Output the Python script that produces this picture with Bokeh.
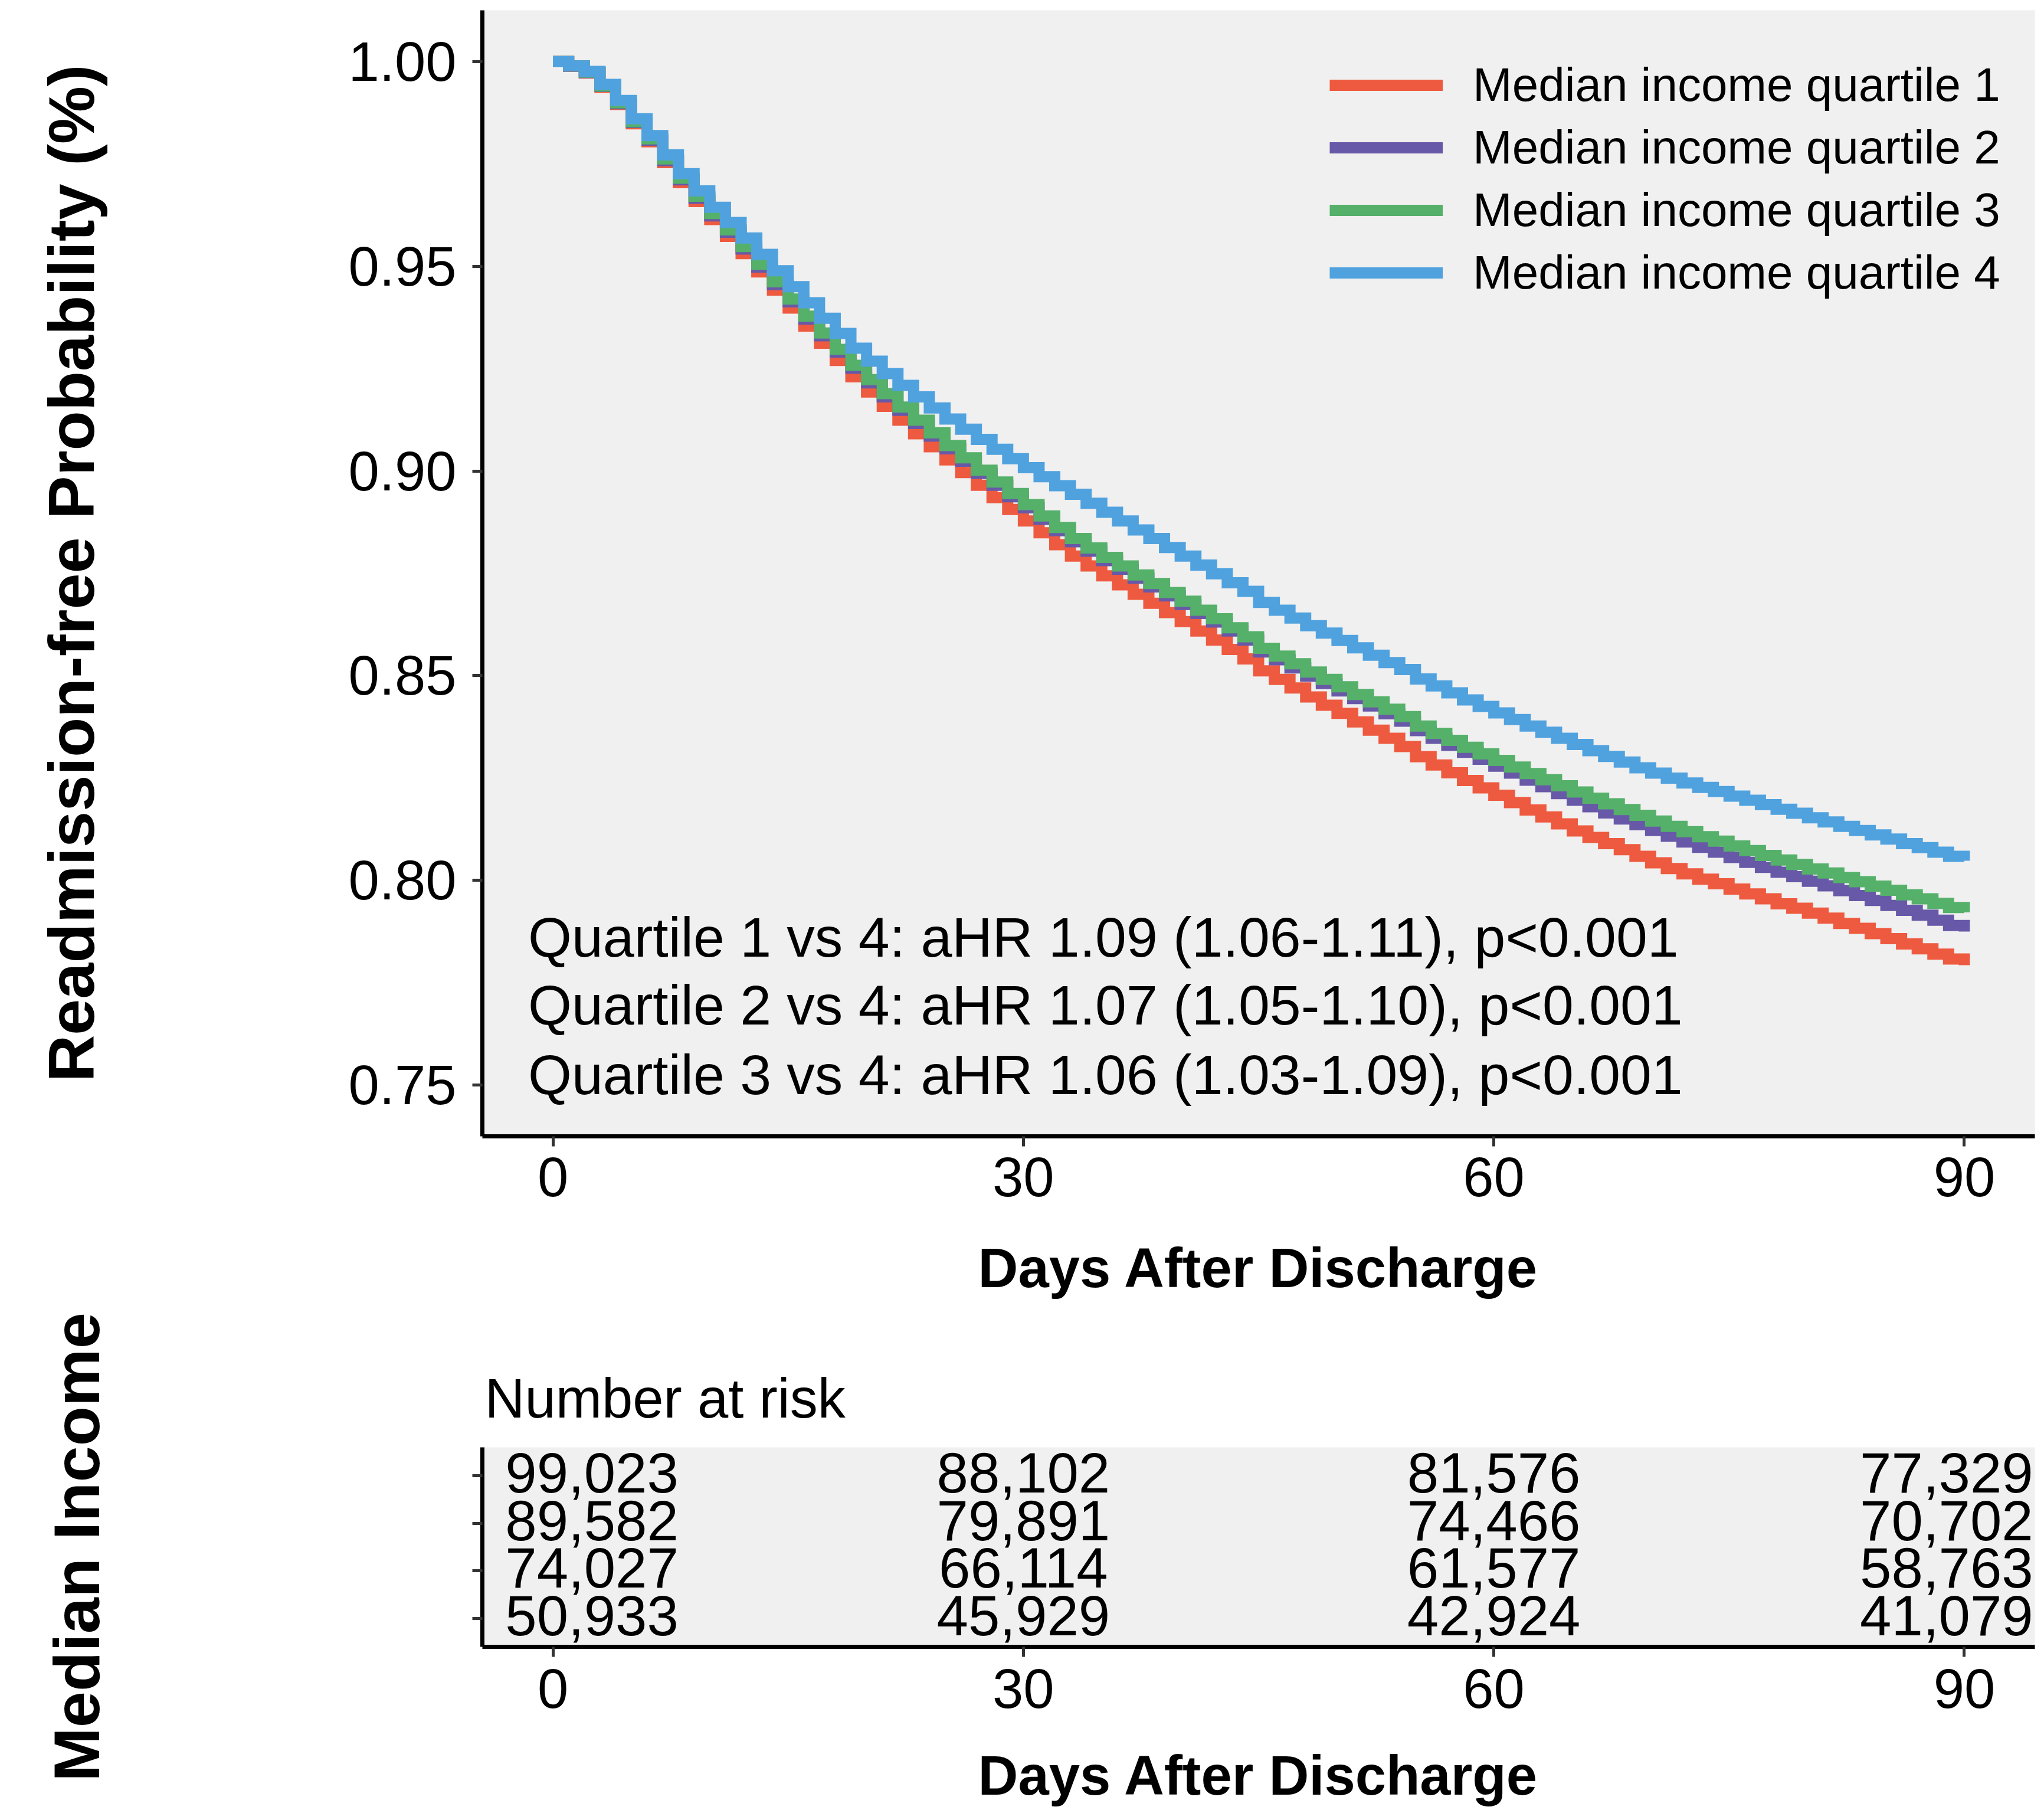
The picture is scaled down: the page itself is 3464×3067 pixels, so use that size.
from bokeh.plotting import figure
from bokeh.models import Range1d, FixedTicker, PrintfTickFormatter, Legend, Label, ColumnDataSource
from bokeh.layouts import column
from bokeh.embed import file_html
from bokeh.resources import INLINE
from bokeh.core.properties import value

FONT = "Liberation Sans"

# ---------------- data ----------------
days = list(range(0, 91))

q1_surv = [1.0000, 0.9988, 0.9972, 0.9937, 0.9895, 0.9848, 0.9804, 0.9753, 0.9704, 0.9658,
           0.9614, 0.9573, 0.9531, 0.9486, 0.9442, 0.9398, 0.9354, 0.9312, 0.9270, 0.9230,
           0.9193, 0.9158, 0.9124, 0.9091, 0.9059, 0.9027, 0.8996, 0.8965, 0.8935, 0.8906,
           0.8878, 0.8849, 0.8820, 0.8792, 0.8768, 0.8744, 0.8722, 0.8699, 0.8677, 0.8654,
           0.8632, 0.8609, 0.8587, 0.8564, 0.8541, 0.8512, 0.8491, 0.8470, 0.8448, 0.8428,
           0.8408, 0.8387, 0.8367, 0.8347, 0.8327, 0.8302, 0.8282, 0.8263, 0.8244, 0.8226,
           0.8208, 0.8190, 0.8172, 0.8155, 0.8138, 0.8121, 0.8105, 0.8090, 0.8075, 0.8059,
           0.8043, 0.8029, 0.8016, 0.8003, 0.7992, 0.7979, 0.7967, 0.7955, 0.7943, 0.7932,
           0.7920, 0.7908, 0.7895, 0.7883, 0.7870, 0.7858, 0.7845, 0.7833, 0.7820, 0.7808,
           0.7793]

q2_surv = [1.0000, 0.9989, 0.9973, 0.9939, 0.9897, 0.9851, 0.9808, 0.9758, 0.9711, 0.9666,
           0.9623, 0.9583, 0.9542, 0.9498, 0.9455, 0.9413, 0.9371, 0.9330, 0.9290, 0.9251,
           0.9215, 0.9181, 0.9148, 0.9116, 0.9085, 0.9054, 0.9024, 0.8994, 0.8965, 0.8937,
           0.8910, 0.8882, 0.8854, 0.8827, 0.8804, 0.8781, 0.8760, 0.8738, 0.8717, 0.8695,
           0.8674, 0.8652, 0.8631, 0.8609, 0.8587, 0.8558, 0.8539, 0.8519, 0.8499, 0.8481,
           0.8463, 0.8444, 0.8426, 0.8407, 0.8389, 0.8366, 0.8347, 0.8330, 0.8313, 0.8296,
           0.8279, 0.8262, 0.8245, 0.8229, 0.8212, 0.8196, 0.8180, 0.8165, 0.8150, 0.8136,
           0.8122, 0.8108, 0.8094, 0.8081, 0.8069, 0.8056, 0.8044, 0.8032, 0.8020, 0.8009,
           0.7998, 0.7987, 0.7975, 0.7963, 0.7951, 0.7939, 0.7927, 0.7915, 0.7903, 0.7890,
           0.7875]

q3_surv = [1.0000, 0.9989, 0.9974, 0.9940, 0.9899, 0.9853, 0.9811, 0.9762, 0.9715, 0.9671,
           0.9629, 0.9589, 0.9548, 0.9505, 0.9462, 0.9420, 0.9378, 0.9337, 0.9297, 0.9258,
           0.9223, 0.9189, 0.9156, 0.9124, 0.9093, 0.9062, 0.9032, 0.9002, 0.8973, 0.8945,
           0.8918, 0.8890, 0.8862, 0.8835, 0.8812, 0.8789, 0.8768, 0.8746, 0.8725, 0.8703,
           0.8682, 0.8660, 0.8639, 0.8617, 0.8595, 0.8567, 0.8548, 0.8529, 0.8509, 0.8491,
           0.8473, 0.8454, 0.8436, 0.8418, 0.8400, 0.8377, 0.8359, 0.8342, 0.8325, 0.8309,
           0.8293, 0.8277, 0.8261, 0.8246, 0.8231, 0.8216, 0.8201, 0.8187, 0.8173, 0.8159,
           0.8145, 0.8132, 0.8119, 0.8107, 0.8096, 0.8084, 0.8073, 0.8061, 0.8050, 0.8039,
           0.8028, 0.8018, 0.8007, 0.7997, 0.7986, 0.7976, 0.7965, 0.7955, 0.7944, 0.7934,
           0.7922]

q4_surv = [1.0000, 0.9989, 0.9976, 0.9944, 0.9905, 0.9860, 0.9819, 0.9772, 0.9726, 0.9684,
           0.9644, 0.9607, 0.9569, 0.9529, 0.9489, 0.9450, 0.9411, 0.9373, 0.9336, 0.9300,
           0.9268, 0.9238, 0.9209, 0.9181, 0.9154, 0.9127, 0.9102, 0.9077, 0.9053, 0.9030,
           0.9008, 0.8986, 0.8964, 0.8943, 0.8921, 0.8899, 0.8878, 0.8856, 0.8835, 0.8813,
           0.8792, 0.8770, 0.8749, 0.8727, 0.8706, 0.8679, 0.8660, 0.8641, 0.8622, 0.8604,
           0.8586, 0.8568, 0.8550, 0.8532, 0.8515, 0.8492, 0.8475, 0.8458, 0.8441, 0.8425,
           0.8409, 0.8393, 0.8377, 0.8362, 0.8347, 0.8332, 0.8317, 0.8303, 0.8289, 0.8275,
           0.8262, 0.8250, 0.8238, 0.8227, 0.8217, 0.8206, 0.8196, 0.8185, 0.8174, 0.8164,
           0.8153, 0.8143, 0.8132, 0.8122, 0.8111, 0.8101, 0.8090, 0.8080, 0.8069, 0.8059,
           0.8048]

series_names = ["Median income quartile 1", "Median income quartile 2",
                "Median income quartile 3", "Median income quartile 4"]
row_labels = ["Quartile 1", "Quartile 2", "Quartile 3", "Quartile 4"]
colors = ["#EE5A3F", "#6858A8", "#55B06A", "#50A2DF"]

hr_lines = ["Quartile 1 vs 4: aHR 1.09 (1.06-1.11), p<0.001",
            "Quartile 2 vs 4: aHR 1.07 (1.05-1.10), p<0.001",
            "Quartile 3 vs 4: aHR 1.06 (1.03-1.09), p<0.001"]
hr_y = [0.7861, 0.7695, 0.7526]

risk_times = [0, 30, 60, 90]
risk_q1 = [99023, 88102, 81576, 77329]
risk_q2 = [89582, 79891, 74466, 70702]
risk_q3 = [74027, 66114, 61577, 58763]
risk_q4 = [50933, 45929, 42924, 41079]

x_ticks = [0, 30, 60, 90]
y_ticks = [0.75, 0.80, 0.85, 0.90, 0.95, 1.00]

x_title = "Days After Discharge"
y_title = "Readmission-free Probability (%)"
risk_title = "Number at risk"
risk_y_title = "Median Income"

PANEL = "#F0F0F0"
W = 3456


def style_axis(ax, tick_size="94px"):
    ax.axis_line_width = 7
    ax.axis_line_color = "black"
    ax.major_tick_line_width = 5
    ax.major_tick_line_color = "#333333"
    ax.major_tick_out = 17
    ax.major_tick_in = 0
    ax.minor_tick_line_color = None
    ax.major_label_text_font = FONT
    ax.major_label_text_font_size = tick_size
    ax.major_label_text_color = "black"
    ax.axis_label_text_font = FONT
    ax.axis_label_text_font_style = "bold"
    ax.axis_label_text_color = "black"


# ---------------- main KM plot ----------------
x0, x1 = -4.5, 94.5
y0, y1 = 0.7375, 1.0125
p1 = figure(width=W, height=2205, x_range=Range1d(x0, x1), y_range=Range1d(y0, y1),
            output_backend="svg", toolbar_location=None,
            min_border_left=817, min_border_right=8, min_border_top=17, min_border_bottom=280,
            background_fill_color=PANEL, border_fill_color="white", outline_line_color=None)
p1.xgrid.visible = False
p1.ygrid.visible = False

renderers = []
for vals, col, name in zip([q1_surv, q2_surv, q3_surv, q4_surv], colors, series_names):
    r = p1.step(x=days, y=vals, mode="after", line_width=19, line_color=col, line_join="miter")
    renderers.append((name, [r]))

legend = Legend(items=renderers, location=(1436, 1410), padding=0, spacing=0, margin=0,
                glyph_width=192, glyph_height=106, label_height=106, label_standoff=51,
                label_text_font=FONT, label_text_font_size="80px", label_text_color="black",
                border_line_alpha=0, background_fill_alpha=0)
p1.add_layout(legend)

for txt, yy in zip(hr_lines, hr_y):
    p1.add_layout(Label(x=-1.58, y=yy, text=txt, text_font=FONT, text_font_size="95px",
                        text_align="left", text_baseline="middle", text_color="black"))

p1.xaxis.ticker = FixedTicker(ticks=x_ticks)
p1.yaxis.ticker = FixedTicker(ticks=y_ticks)
p1.yaxis.formatter = PrintfTickFormatter(format="%.2f")
style_axis(p1.xaxis[0])
style_axis(p1.yaxis[0])
p1.xaxis.axis_label = x_title
p1.xaxis.axis_label_text_font_size = "94px"
p1.xaxis.major_label_standoff = 19
p1.xaxis.axis_label_standoff = 66
p1.yaxis.axis_label = y_title
p1.yaxis.axis_label_text_font_size = "110px"
p1.yaxis.major_label_standoff = 27
p1.yaxis.axis_label_standoff = 406

# ---------------- risk table ----------------
r0, r1 = 0.4, 4.6
p2 = figure(width=W, height=861, x_range=Range1d(x0, x1), y_range=Range1d(r0, r1),
            output_backend="svg", toolbar_location=None,
            min_border_left=817, min_border_right=8, min_border_top=247, min_border_bottom=276,
            background_fill_color=PANEL, border_fill_color="white", outline_line_color=None,
            title=risk_title)
p2.xgrid.visible = False
p2.ygrid.visible = False
p2.title.text_font = FONT
p2.title.text_font_size = "94px"
p2.title.text_font_style = "normal"
p2.title.text_color = "black"
p2.title.align = "left"
p2.title.offset = 4
p2.title.standoff = 61

row_y = [4, 3, 2, 1]
xs, ys, txts, xoffs = [], [], [], []
for counts, yy in zip([risk_q1, risk_q2, risk_q3, risk_q4], row_y):
    for t, c in zip(risk_times, counts):
        xs.append(t)
        ys.append(yy)
        txts.append(f"{c:,}")
        xoffs.append(66 if t == risk_times[0] else (-30 if t == risk_times[-1] else 0))
src = ColumnDataSource(dict(x=xs, y=ys, text=txts, xoff=xoffs))
p2.text(x="x", y="y", text="text", x_offset="xoff", y_offset=-5, source=src,
        text_font=value(FONT), text_font_size="96px", text_align="center",
        text_baseline="middle", text_color="black")

for lab, yy, col in zip(row_labels, row_y, colors):
    p2.add_layout(Label(x=-9.33, y=yy, text=lab, text_font=FONT, text_font_size="86px",
                        text_font_style="bold", text_color=col, text_align="right",
                        text_baseline="middle"))

p2.xaxis.ticker = FixedTicker(ticks=x_ticks)
p2.yaxis.ticker = FixedTicker(ticks=row_y)
p2.yaxis.major_label_overrides = {4: "", 3: "", 2: "", 1: ""}
style_axis(p2.xaxis[0])
style_axis(p2.yaxis[0])
p2.xaxis.axis_label = x_title
p2.xaxis.axis_label_text_font_size = "94px"
p2.xaxis.major_label_standoff = 21
p2.xaxis.axis_label_standoff = 59
p2.yaxis.axis_label = risk_y_title
p2.yaxis.axis_label_text_font_size = "110px"
p2.yaxis.major_label_standoff = 0
p2.yaxis.axis_label_standoff = 610

layout = column(p1, p2)
open("out.html", "w").write(file_html(layout, INLINE))
